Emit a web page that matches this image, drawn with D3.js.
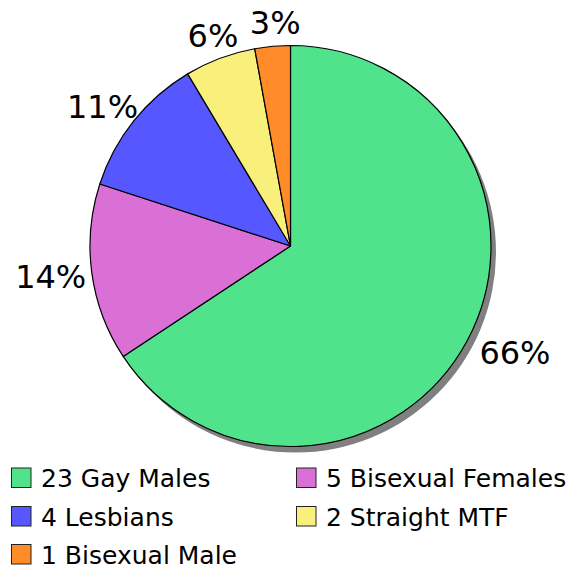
<!DOCTYPE html>
<html>
<head>
<meta charset="utf-8">
<script src="https://cdn.jsdelivr.net/npm/d3@7"></script>
<style>
  html, body { margin: 0; padding: 0; background: #fff; }
  svg { display: block; }
</style>
</head>
<body>
<svg id="chart" width="571" height="569"></svg>
<script>
const categories = ["Gay Males", "Bisexual Females", "Lesbians", "Straight MTF", "Bisexual Male"];
const counts = [23, 5, 4, 2, 1];
const colors = ["#50E38C", "#DA70D6", "#5757FF", "#F9F07C", "#FF8C28"];

const W = 571, H = 569;
const cx = 290.5, cy = 246, r = 200.5;
const font = "'DejaVu Sans', sans-serif";

const svg = d3.select("#chart");
const total = d3.sum(counts);
const data = categories.map((c, i) => ({ name: c, value: counts[i], color: colors[i] }));

const pie = d3.pie().sort(null).value(d => d.value);
const arcs = pie(data);
const arc = d3.arc().innerRadius(0).outerRadius(r);

const g = svg.append("g").attr("transform", `translate(${cx},${cy})`);

// shadow
g.append("circle")
  .attr("cx", 5).attr("cy", 6).attr("r", r)
  .attr("fill", "#808080");

g.selectAll("path.slice")
  .data(arcs)
  .join("path")
  .attr("class", "slice")
  .attr("d", arc)
  .attr("fill", d => d.data.color)
  .attr("stroke", "#000")
  .attr("stroke-width", 1.2)
  .attr("stroke-linejoin", "round");

// percentage labels
const R = r + 12;
arcs.forEach(d => {
  const a = (d.startAngle + d.endAngle) / 2;
  const ux = Math.sin(a), uy = -Math.cos(a);
  const t = g.append("text")
    .attr("font-family", font)
    .attr("font-size", 32)
    .attr("fill", "#000")
    .attr("text-anchor", "middle")
    .attr("dy", "0.36em")
    .text(Math.round(d.data.value / total * 100) + "%");
  const hw = t.node().getComputedTextLength() / 2;
  const hh = 12;
  t.attr("x", R * ux + hw * ux + 6).attr("y", R * uy + hh * uy);
});

// legend
const legend = svg.append("g");
const colX = [11, 296];
const rowY = [467.5, 506, 544];
data.forEach((d, i) => {
  const col = i % 2, row = Math.floor(i / 2);
  const x = colX[col], y = rowY[row];
  legend.append("rect")
    .attr("x", x + 0.5).attr("y", y + 0.5)
    .attr("width", 19.5).attr("height", 19.5)
    .attr("fill", d.color)
    .attr("stroke", "#222")
    .attr("stroke-width", 1);
  legend.append("text")
    .attr("x", x + 30).attr("y", y + 19.5)
    .attr("font-family", font)
    .attr("font-size", 25)
    .attr("fill", "#000")
    .text(d.value + " " + d.name);
});
</script>
</body>
</html>
